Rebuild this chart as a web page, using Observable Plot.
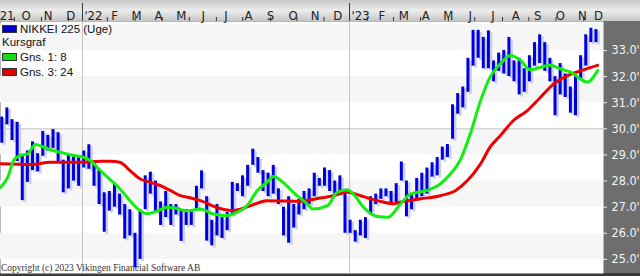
<!DOCTYPE html>
<html>
<head>
<meta charset="utf-8">
<script src="https://cdn.jsdelivr.net/npm/d3@7"></script>
<script src="https://cdn.jsdelivr.net/npm/@observablehq/plot@0.6"></script>
<style>
  html, body { margin: 0; padding: 0; background: #fff; }
  #wrap {
    position: relative; width: 640px; height: 276px; overflow: hidden;
    background:
      linear-gradient(#c8c8c8, #ececec 50%, #c6c6c6) 0 0 / 640px 21px no-repeat,
      linear-gradient(#6e6e6e, #6e6e6e) 0 0 / 640px 273px no-repeat,
      #3a3a3a;
  }
  #wrap svg { position: absolute; left: 0; top: 0; }
  .lg { position: absolute; font: 11.5px "Liberation Sans", Arial, sans-serif; color: #111; line-height: 14px; height: 14px; white-space: nowrap; }
  .sw { position: absolute; width: 13px; height: 6px; border: 1px solid #333; }
  #copy { position: absolute; left: 1px; top: 263px; font: 9.5px "Liberation Serif", "DejaVu Serif", serif; color: #333; white-space: nowrap; }
</style>
</head>
<body>
<div id="wrap"></div>
<script>
// ---- data (weekly NIKKEI 225, thousands) ----
const weekDates = [
  "2021-09-10","2021-09-17","2021-09-24","2021-10-01","2021-10-08","2021-10-15","2021-10-22","2021-10-29",
  "2021-11-05","2021-11-12","2021-11-19","2021-11-26","2021-12-03","2021-12-10","2021-12-17","2021-12-24","2021-12-31",
  "2022-01-07","2022-01-14","2022-01-21","2022-01-28","2022-02-04","2022-02-11","2022-02-18","2022-02-25",
  "2022-03-04","2022-03-11","2022-03-18","2022-03-25","2022-04-01","2022-04-08","2022-04-15","2022-04-22","2022-04-29",
  "2022-05-06","2022-05-13","2022-05-20","2022-05-27","2022-06-03","2022-06-10","2022-06-17","2022-06-24",
  "2022-07-01","2022-07-08","2022-07-15","2022-07-22","2022-07-29","2022-08-05","2022-08-12","2022-08-19","2022-08-26",
  "2022-09-02","2022-09-09","2022-09-16","2022-09-23","2022-09-30","2022-10-07","2022-10-14","2022-10-21","2022-10-28",
  "2022-11-04","2022-11-11","2022-11-18","2022-11-25","2022-12-02","2022-12-09","2022-12-16","2022-12-23","2022-12-30",
  "2023-01-06","2023-01-13","2023-01-20","2023-01-27","2023-02-03","2023-02-10","2023-02-17","2023-02-24",
  "2023-03-03","2023-03-10","2023-03-17","2023-03-24","2023-03-31","2023-04-07","2023-04-14","2023-04-21","2023-04-28",
  "2023-05-05","2023-05-12","2023-05-19","2023-05-26","2023-06-02","2023-06-09","2023-06-16","2023-06-23","2023-06-30",
  "2023-07-07","2023-07-14","2023-07-21","2023-07-28","2023-08-04","2023-08-11","2023-08-18","2023-08-25",
  "2023-09-01","2023-09-08","2023-09-15","2023-09-22","2023-09-29","2023-10-06","2023-10-13","2023-10-20","2023-10-27",
  "2023-11-03","2023-11-10","2023-11-17","2023-11-24","2023-12-01"
];
const weekHigh = [
  30.45,30.80,30.35,30.25,28.95,29.15,29.50,29.05,
  29.90,29.75,29.97,29.85,28.80,29.00,29.00,28.90,29.15,
  29.39,28.70,28.40,27.55,27.60,27.90,27.50,27.10,
  26.90,26.00,26.90,28.20,28.34,28.00,27.20,27.60,27.10,
  27.10,26.90,26.90,26.90,27.80,28.39,27.40,26.50,
  27.10,26.60,26.80,27.95,27.90,28.20,28.60,29.22,28.90,
  28.40,28.30,28.60,27.70,27.00,27.40,27.10,27.30,27.60,
  27.70,28.30,28.10,28.50,28.40,28.00,28.20,27.50,26.50,
  26.10,26.50,26.60,27.40,27.50,27.70,27.70,27.60,
  27.90,28.73,28.00,27.50,28.10,28.30,28.50,28.70,28.90,
  29.30,29.40,30.92,31.35,31.60,32.70,33.77,33.77,33.50,
  33.75,32.60,32.90,33.00,33.50,32.60,32.70,32.30,
  32.80,33.30,33.60,33.30,32.70,32.00,32.50,32.10,31.60,
  32.00,32.80,33.60,33.85,33.80
];
const weekLow = [
  29.45,30.15,29.55,28.75,27.25,27.95,28.40,28.35,
  28.95,29.15,29.25,28.70,27.55,27.70,28.00,27.80,28.50,
  28.45,27.80,27.10,26.04,26.85,27.00,26.70,25.78,
  25.90,24.68,25.00,26.90,27.50,26.80,26.30,26.60,26.30,
  26.70,25.69,26.30,26.30,26.90,27.70,25.70,25.52,
  25.90,25.80,26.10,26.70,27.60,27.40,27.80,28.60,28.30,
  27.60,27.40,27.50,27.10,25.90,25.62,26.20,26.70,26.90,
  27.10,27.40,27.80,27.80,27.60,27.50,27.50,26.00,26.00,
  25.66,25.90,25.80,26.70,27.10,27.30,27.40,27.10,
  27.10,28.00,26.63,26.90,27.30,27.40,27.50,28.15,28.20,
  28.80,28.90,29.60,30.56,30.80,31.40,32.40,32.70,32.30,
  32.30,31.80,32.20,32.10,32.00,31.80,31.30,31.40,
  31.80,32.40,32.50,32.20,31.80,30.50,31.30,31.20,30.60,
  30.50,31.90,32.40,33.30,33.30
];
// Gns. 1: 8 (green)
const fastDates = [
  "2021-09-11","2021-09-21","2021-09-29","2021-10-08","2021-10-18","2021-10-29","2021-11-09","2021-11-22",
  "2021-12-06","2021-12-20","2022-01-02","2022-01-12","2022-01-21","2022-02-04","2022-02-17","2022-03-03",
  "2022-03-17","2022-03-30","2022-04-13","2022-04-27","2022-05-10","2022-05-24","2022-06-11","2022-06-29",
  "2022-07-18","2022-07-26","2022-08-14","2022-08-28","2022-09-10","2022-09-19","2022-10-02","2022-10-16",
  "2022-11-04","2022-11-12","2022-12-02","2022-12-15","2022-12-29","2023-01-06","2023-01-20","2023-02-08",
  "2023-02-22","2023-03-11","2023-03-25","2023-04-17","2023-05-05","2023-05-19","2023-06-01","2023-06-15",
  "2023-06-29","2023-07-12","2023-07-26","2023-08-09","2023-08-22","2023-09-05","2023-09-19","2023-10-02",
  "2023-10-16","2023-10-30","2023-11-22","2023-12-06"
];
const fastValues = [
  27.76,28.15,28.79,28.98,29.04,29.40,29.30,29.17,
  29.07,28.98,28.91,28.79,28.53,28.15,27.83,27.38,
  26.95,26.75,26.85,27.00,26.95,26.85,26.93,26.74,
  26.68,26.74,27.06,27.64,27.95,28.17,27.95,27.57,
  27.13,26.93,27.06,27.57,27.67,27.51,27.00,26.64,
  26.61,27.10,27.50,27.64,27.89,28.28,28.79,29.81,
  31.08,31.98,32.49,32.81,32.64,32.26,32.36,32.43,
  32.30,32.17,31.79,32.23
];
// Gns. 3: 24 (red)
const slowDates = [
  "2021-09-11","2021-10-22","2021-11-18","2021-12-29","2022-01-26","2022-02-08","2022-02-21","2022-03-07",
  "2022-03-21","2022-04-04","2022-04-17","2022-05-01","2022-05-15","2022-05-28","2022-06-11","2022-07-08",
  "2022-07-26","2022-08-18","2022-09-10","2022-10-26","2022-11-18","2022-12-10","2022-12-29","2023-01-16",
  "2023-02-08","2023-03-02","2023-03-11","2023-04-08","2023-05-05","2023-05-26","2023-06-11","2023-06-29",
  "2023-07-12","2023-07-26","2023-08-13","2023-09-01","2023-09-19","2023-10-07","2023-10-26","2023-11-17","2023-12-06"
];
const slowValues = [
  28.66,28.63,28.72,28.72,28.76,28.76,28.72,28.40,
  28.08,27.95,27.83,27.64,27.44,27.36,27.25,26.95,
  26.87,27.05,27.25,27.23,27.33,27.44,27.57,27.44,
  27.25,27.13,27.19,27.32,27.44,27.64,28.02,28.66,
  29.30,29.74,30.32,30.70,31.21,31.72,32.04,32.26,32.43
];
const monthLabelDates = [
  "2021-09-20","2021-10-16","2021-11-15","2021-12-16",
  "2022-01-16","2022-02-14","2022-03-16","2022-04-15","2022-05-16","2022-06-15","2022-07-16","2022-08-16","2022-09-15","2022-10-16","2022-11-15","2022-12-16",
  "2023-01-16","2023-02-14","2023-03-16","2023-04-15","2023-05-16","2023-06-15","2023-07-16","2023-08-16","2023-09-15","2023-10-16","2023-11-15","2023-12-07"
];
const monthLabels = ["21","O","N","D","'22","F","M","A","M","J","J","A","S","O","N","D","'23","F","M","A","M","J","J","A","S","O","N","D"];
const yearStarts = ["2022-01-01","2023-01-01"];
const minorTickDates = [
  "2021-09-30","2021-11-06","2021-12-13","2022-02-04","2022-03-14","2022-04-20","2022-05-27","2022-07-03",
  "2022-08-08","2022-09-15","2022-10-21","2022-11-27","2023-01-25","2023-03-02","2023-04-08","2023-05-16",
  "2023-06-21","2023-07-29","2023-09-03","2023-10-10","2023-11-17"
];
const yTicks = [25, 26, 27, 28, 29, 30, 31, 32, 33];
const bandLo = [25, 27, 29, 31, 33];

// ---- build ----
const D = s => new Date(s + "T00:00:00Z");
const weeks = weekDates.map((d, i) => ({date: D(d), hi: weekHigh[i], lo: weekLow[i]}));
const fast = fastDates.map((d, i) => ({date: D(d), v: fastValues[i]}));
const slow = slowDates.map((d, i) => ({date: D(d), v: slowValues[i]}));
const months = monthLabelDates.map((d, i) => ({date: D(d), label: monthLabels[i]}));
const years = yearStarts.map(D);
const minor = minorTickDates.map(D);

const axisFont = '"Liberation Sans Narrow", "DejaVu Sans Condensed", "Liberation Sans", sans-serif';

const chart = Plot.plot({
  width: 640, height: 276,
  marginTop: 21, marginBottom: 3, marginLeft: 0, marginRight: 37,
  style: {background: "transparent", overflow: "visible"},
  x: {type: "utc", domain: [D("2021-09-11"), D("2023-12-14")], axis: null},
  y: {domain: [24.46, 34.11], axis: null},
  marks: [
    Plot.frame({fill: "#ffffff", stroke: null}),
    Plot.rect(bandLo, {y1: d => d, y2: d => d + 1, fill: "#f6f6f6"}),
    Plot.ruleY([30], {stroke: "#c4c4c4"}),
    Plot.ruleX(years, {stroke: "#333", insetTop: -18, insetBottom: 252}),
    Plot.ruleX(years, {stroke: "#c4c4c4"}),
    Plot.ruleX(minor, {stroke: "#333", insetTop: -4, insetBottom: 252}),
    Plot.text(months, {x: "date", text: "label", frameAnchor: "top", dy: -11, fontSize: 13, fill: "#222", fontFamily: axisFont}),
    // right axis
    Plot.ruleY(yTicks, {stroke: "#f0f0f0", insetLeft: 603, insetRight: -4}),
    Plot.text(yTicks, {y: d => d, text: d => d.toFixed(1) + "'", frameAnchor: "right", textAnchor: "start", dx: 8, fill: "#f4f4f4", fontSize: 12.5, fontFamily: axisFont}),
    // weekly bars
    Plot.ruleX(weeks, {x: "date", y1: "lo", y2: "hi", dx: 4.5, dy: 2, stroke: "#cdd0ee", strokeWidth: 3}),
    Plot.ruleX(weeks, {x: "date", y1: "lo", y2: "hi", dx: 2, stroke: "#0000dd", strokeWidth: 3}),
    // moving averages
    Plot.line(slow, {x: "date", y: "v", stroke: "#ee0000", strokeWidth: 3, curve: "monotone-x"}),
    Plot.line(fast, {x: "date", y: "v", stroke: "#11ee11", strokeWidth: 3, curve: "monotone-x"})
  ]
});

const wrap = document.getElementById("wrap");
wrap.appendChild(chart);

// legend overlay
const legendItems = [
  {label: "NIKKEI 225 (Uge)", color: "#0000cc", cy: 28.5},
  {label: "Kursgraf", color: null, cy: 42},
  {label: "Gns. 1: 8", color: "#11dd11", cy: 57},
  {label: "Gns. 3: 24", color: "#dd0000", cy: 71.5}
];
for (const it of legendItems) {
  if (it.color) {
    const s = document.createElement("div");
    s.className = "sw";
    s.style.left = "2px"; s.style.top = (it.cy - 4) + "px"; s.style.background = it.color;
    wrap.appendChild(s);
  }
  const t = document.createElement("div");
  t.className = "lg";
  t.textContent = it.label;
  t.style.left = it.color ? "20px" : "2px";
  t.style.top = (it.cy - 7) + "px";
  wrap.appendChild(t);
}
const c = document.createElement("div");
c.id = "copy";
c.textContent = "Copyright (c) 2023 Vikingen Financial Software AB";
wrap.appendChild(c);
</script>
</body>
</html>
